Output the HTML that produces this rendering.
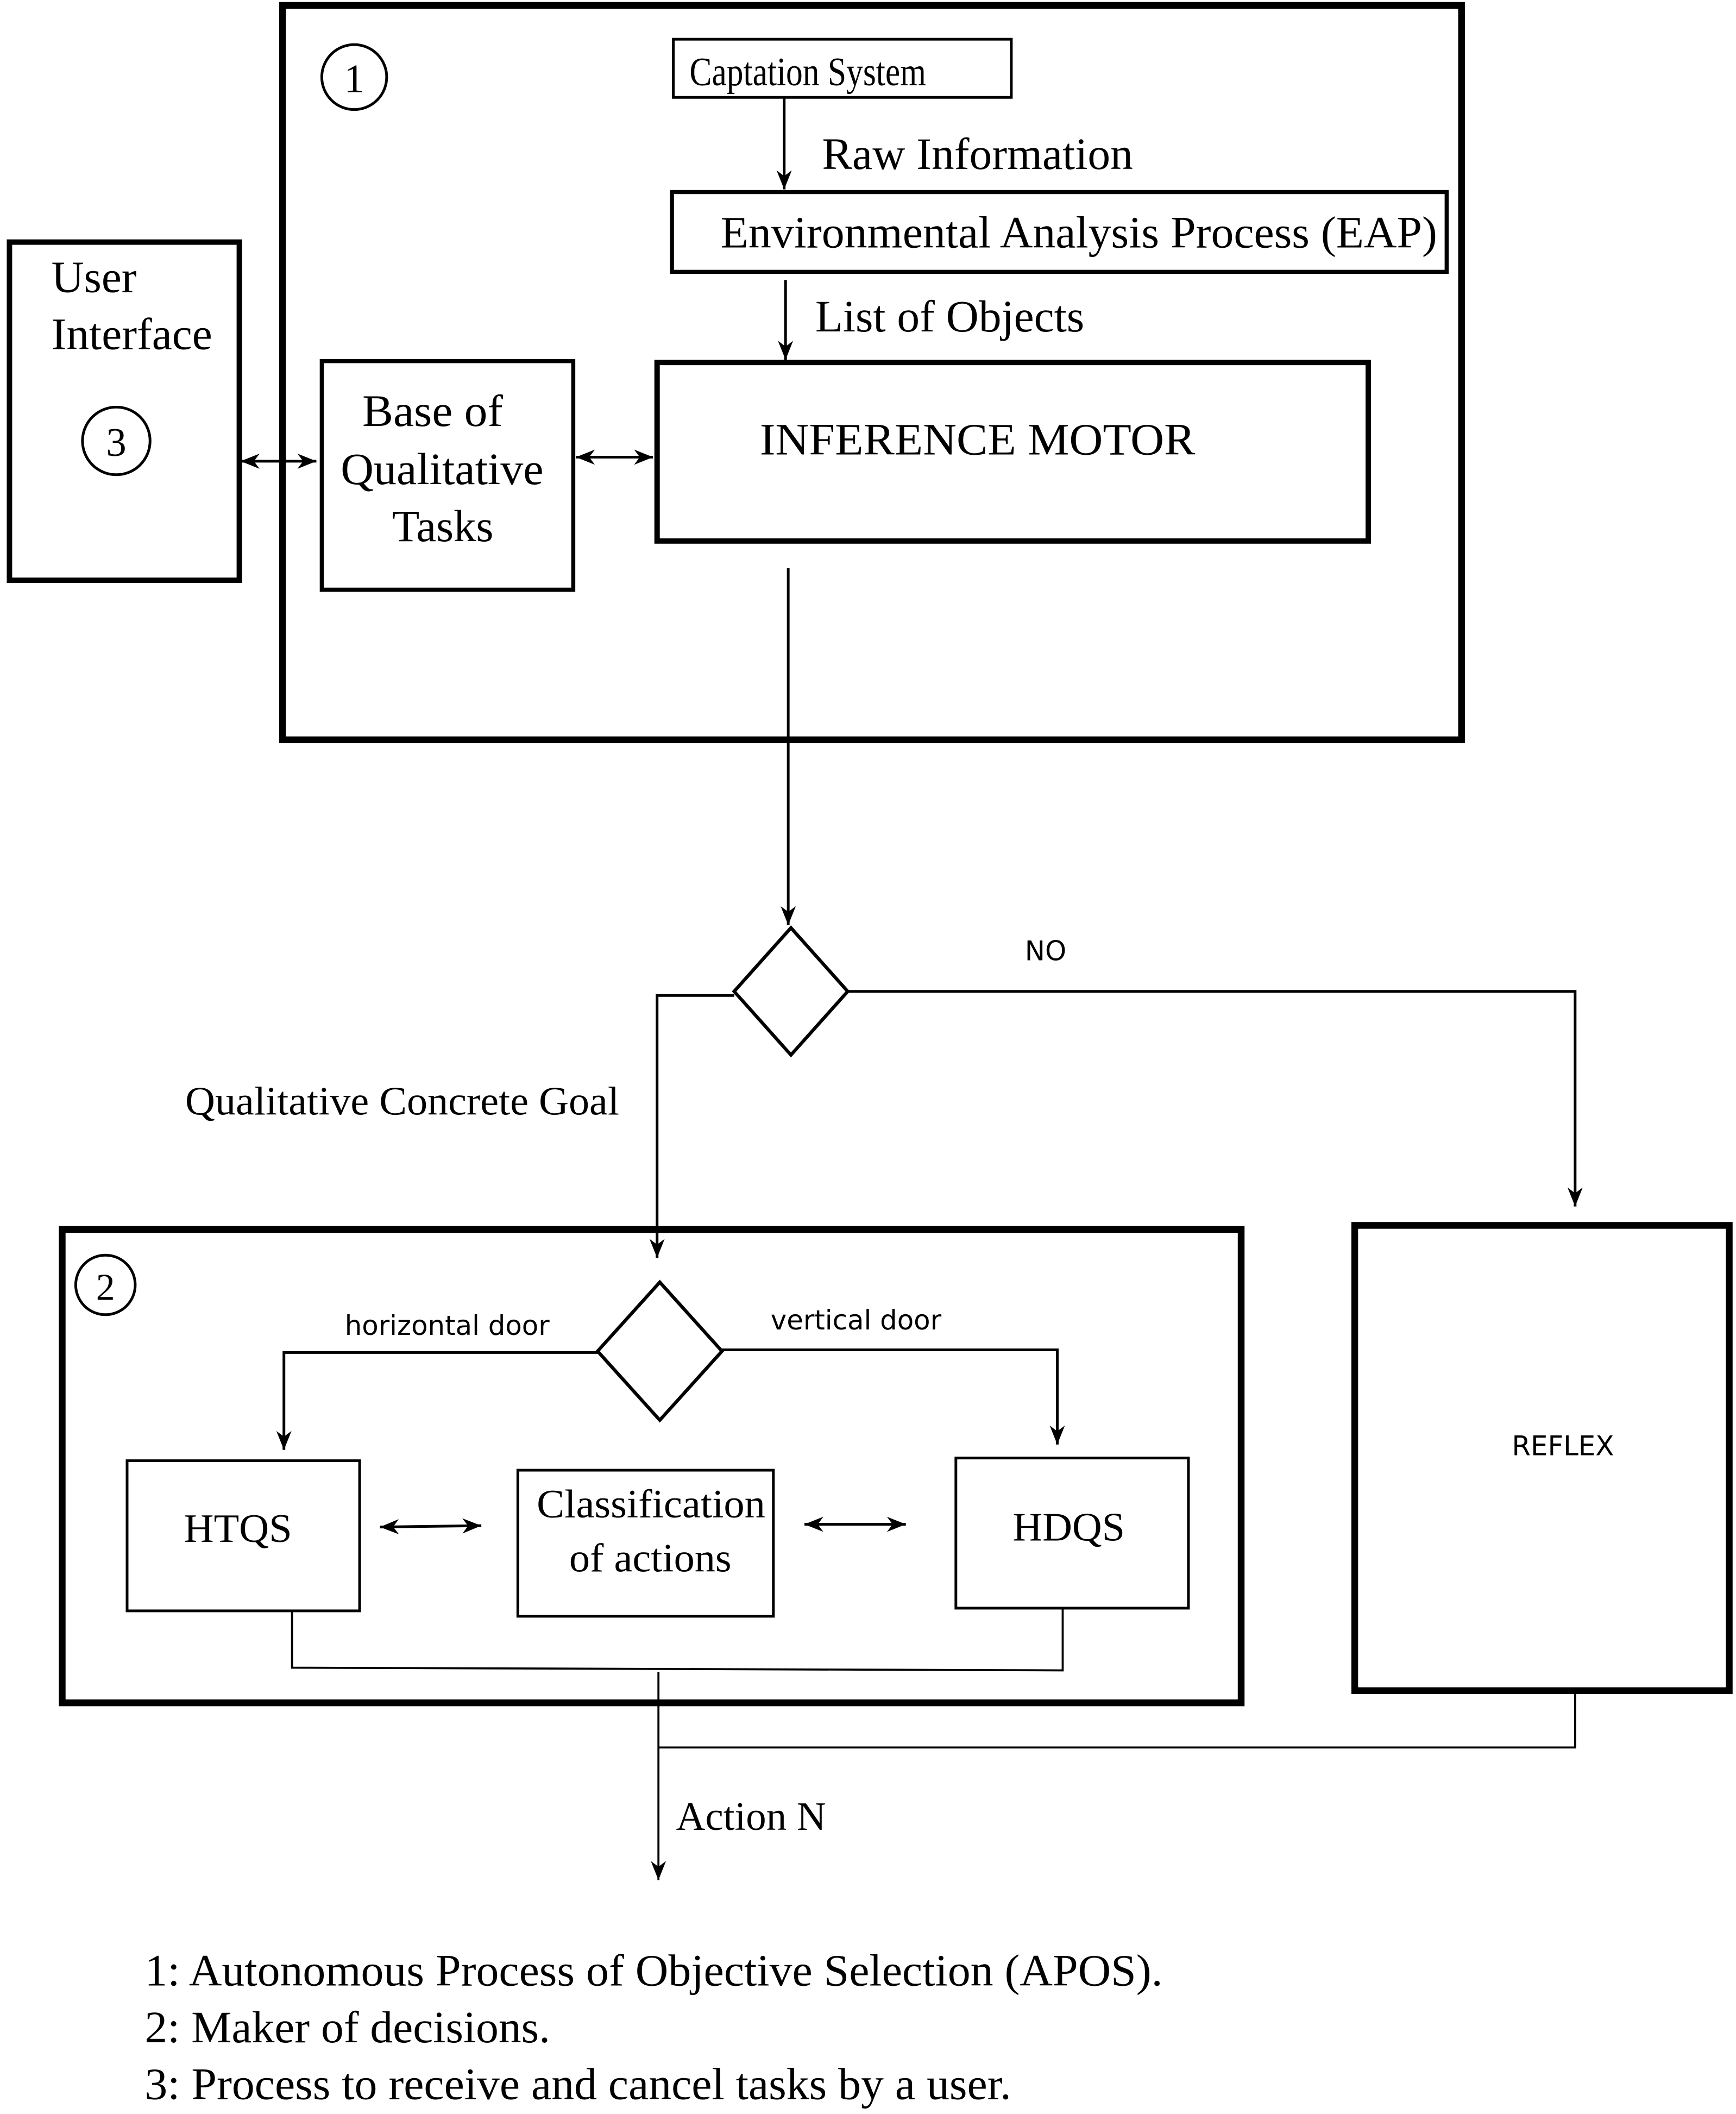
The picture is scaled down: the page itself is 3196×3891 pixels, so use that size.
<!DOCTYPE html>
<html><head><meta charset="utf-8"><style>html,body{margin:0;padding:0;background:#fff}svg{display:block}</style></head>
<body>
<svg xmlns="http://www.w3.org/2000/svg" width="3196" height="3891" viewBox="0 0 1284 1563" preserveAspectRatio="none">
<defs>
<marker id="b" viewBox="0 0 10 10" refX="10" refY="5" markerWidth="14" markerHeight="14" orient="auto-start-reverse" markerUnits="userSpaceOnUse"><path d="M0,1 L10,5 L0,9 L3,5 z" fill="#000"/></marker>
</defs>
<g fill="none" stroke="#000">
<rect x="209" y="4" width="872" height="543" stroke-width="5"/>
<circle cx="262" cy="57" r="24" stroke-width="2"/>
<rect x="498" y="29" width="250" height="43" stroke-width="2"/>
<line x1="580" y1="72" x2="580" y2="140" stroke-width="2" marker-end="url(#b)"/>
<rect x="497" y="142" width="573" height="59" stroke-width="3"/>
<line x1="581" y1="207" x2="581" y2="266" stroke-width="2" marker-end="url(#b)"/>
<rect x="486" y="268" width="526" height="132" stroke-width="4"/>
<rect x="238" y="267" width="186" height="169" stroke-width="3"/>
<line x1="426" y1="338" x2="483" y2="338" stroke-width="2" marker-start="url(#b)" marker-end="url(#b)"/>
<rect x="7" y="179" width="170" height="250" stroke-width="4"/>
<circle cx="86" cy="326" r="25" stroke-width="2"/>
<line x1="178" y1="341" x2="234" y2="341" stroke-width="2" marker-start="url(#b)" marker-end="url(#b)"/>
<line x1="583" y1="420" x2="583" y2="684" stroke-width="2" marker-end="url(#b)"/>
<polygon points="585,686 627,733 585,780 543,733" stroke-width="2.5"/>
<polyline points="627,733 1165,733 1165,892" stroke-width="2" marker-end="url(#b)"/>
<polyline points="543,736 486,736 486,930" stroke-width="2" marker-end="url(#b)"/>
<rect x="46" y="909" width="872" height="350" stroke-width="5"/>
<circle cx="78" cy="950" r="22" stroke-width="2"/>
<polygon points="488,948 534,999 488,1050 442,999" stroke-width="2.5"/>
<polyline points="442,1000 210,1000 210,1072" stroke-width="2" marker-end="url(#b)"/>
<polyline points="534,998 782,998 782,1068" stroke-width="2" marker-end="url(#b)"/>
<rect x="94" y="1080" width="172" height="111" stroke-width="2"/>
<rect x="383" y="1087" width="189" height="108" stroke-width="2"/>
<rect x="707" y="1078" width="172" height="111" stroke-width="2"/>
<line x1="281" y1="1129" x2="356" y2="1128" stroke-width="2" marker-start="url(#b)" marker-end="url(#b)"/>
<line x1="595" y1="1127" x2="670" y2="1127" stroke-width="2" marker-start="url(#b)" marker-end="url(#b)"/>
<polyline points="216,1191 216,1233 786,1235 786,1189" stroke-width="1.5"/>
<line x1="487" y1="1236" x2="487" y2="1390" stroke-width="1.5" marker-end="url(#b)"/>
<rect x="1002" y="906" width="277" height="344" stroke-width="5"/>
<polyline points="1165,1250 1165,1292 487,1292" stroke-width="1.5"/>
</g>
<g font-family="Liberation Serif, serif" fill="#000" lengthAdjust="spacingAndGlyphs">
<text x="262" y="68" font-size="30" text-anchor="middle">1</text>
<text x="86" y="337" font-size="30" text-anchor="middle">3</text>
<text x="78" y="961" font-size="28" text-anchor="middle">2</text>
<text x="510" y="63" font-size="30" textLength="175" lengthAdjust="spacingAndGlyphs">Captation System</text>
<text x="608" y="125" font-size="33" textLength="230" lengthAdjust="spacingAndGlyphs">Raw Information</text>
<text x="533" y="183" font-size="33" textLength="530" lengthAdjust="spacingAndGlyphs">Environmental Analysis Process (EAP)</text>
<text x="603" y="245" font-size="33" textLength="199" lengthAdjust="spacingAndGlyphs">List of Objects</text>
<text x="562" y="336" font-size="33" textLength="322" lengthAdjust="spacingAndGlyphs">INFERENCE  MOTOR</text>
<text x="268" y="315" font-size="33" textLength="104" lengthAdjust="spacingAndGlyphs">Base of</text>
<text x="252" y="358" font-size="33" textLength="150" lengthAdjust="spacingAndGlyphs">Qualitative</text>
<text x="290" y="400" font-size="33" textLength="75" lengthAdjust="spacingAndGlyphs">Tasks</text>
<text x="38" y="216" font-size="33" textLength="63" lengthAdjust="spacingAndGlyphs">User</text>
<text x="38" y="258" font-size="33" textLength="119" lengthAdjust="spacingAndGlyphs">Interface</text>
<text x="137" y="824" font-size="30" textLength="321" lengthAdjust="spacingAndGlyphs">Qualitative Concrete Goal</text>
<text x="136" y="1140" font-size="30" textLength="80" lengthAdjust="spacingAndGlyphs">HTQS</text>
<text x="397" y="1122" font-size="30" textLength="169" lengthAdjust="spacingAndGlyphs">Classification</text>
<text x="421" y="1162" font-size="30" textLength="120" lengthAdjust="spacingAndGlyphs">of actions</text>
<text x="749" y="1139" font-size="30" textLength="83" lengthAdjust="spacingAndGlyphs">HDQS</text>
<text x="500" y="1353" font-size="30" textLength="111" lengthAdjust="spacingAndGlyphs">Action N</text>
<text x="107" y="1468" font-size="33" textLength="753" lengthAdjust="spacingAndGlyphs">1: Autonomous Process of Objective Selection (APOS).</text>
<text x="107" y="1510" font-size="33" textLength="300" lengthAdjust="spacingAndGlyphs">2: Maker of decisions.</text>
<text x="107" y="1552" font-size="33" textLength="641" lengthAdjust="spacingAndGlyphs">3: Process to receive and cancel tasks by a user.</text>
</g>
<g font-family="DejaVu Sans, sans-serif" fill="#000" font-size="20">
<text x="758" y="710">NO</text>
<text x="255" y="987">horizontal door</text>
<text x="570" y="983">vertical door</text>
<text x="1156" y="1076" text-anchor="middle">REFLEX</text>
</g>
</svg>
</body></html>
